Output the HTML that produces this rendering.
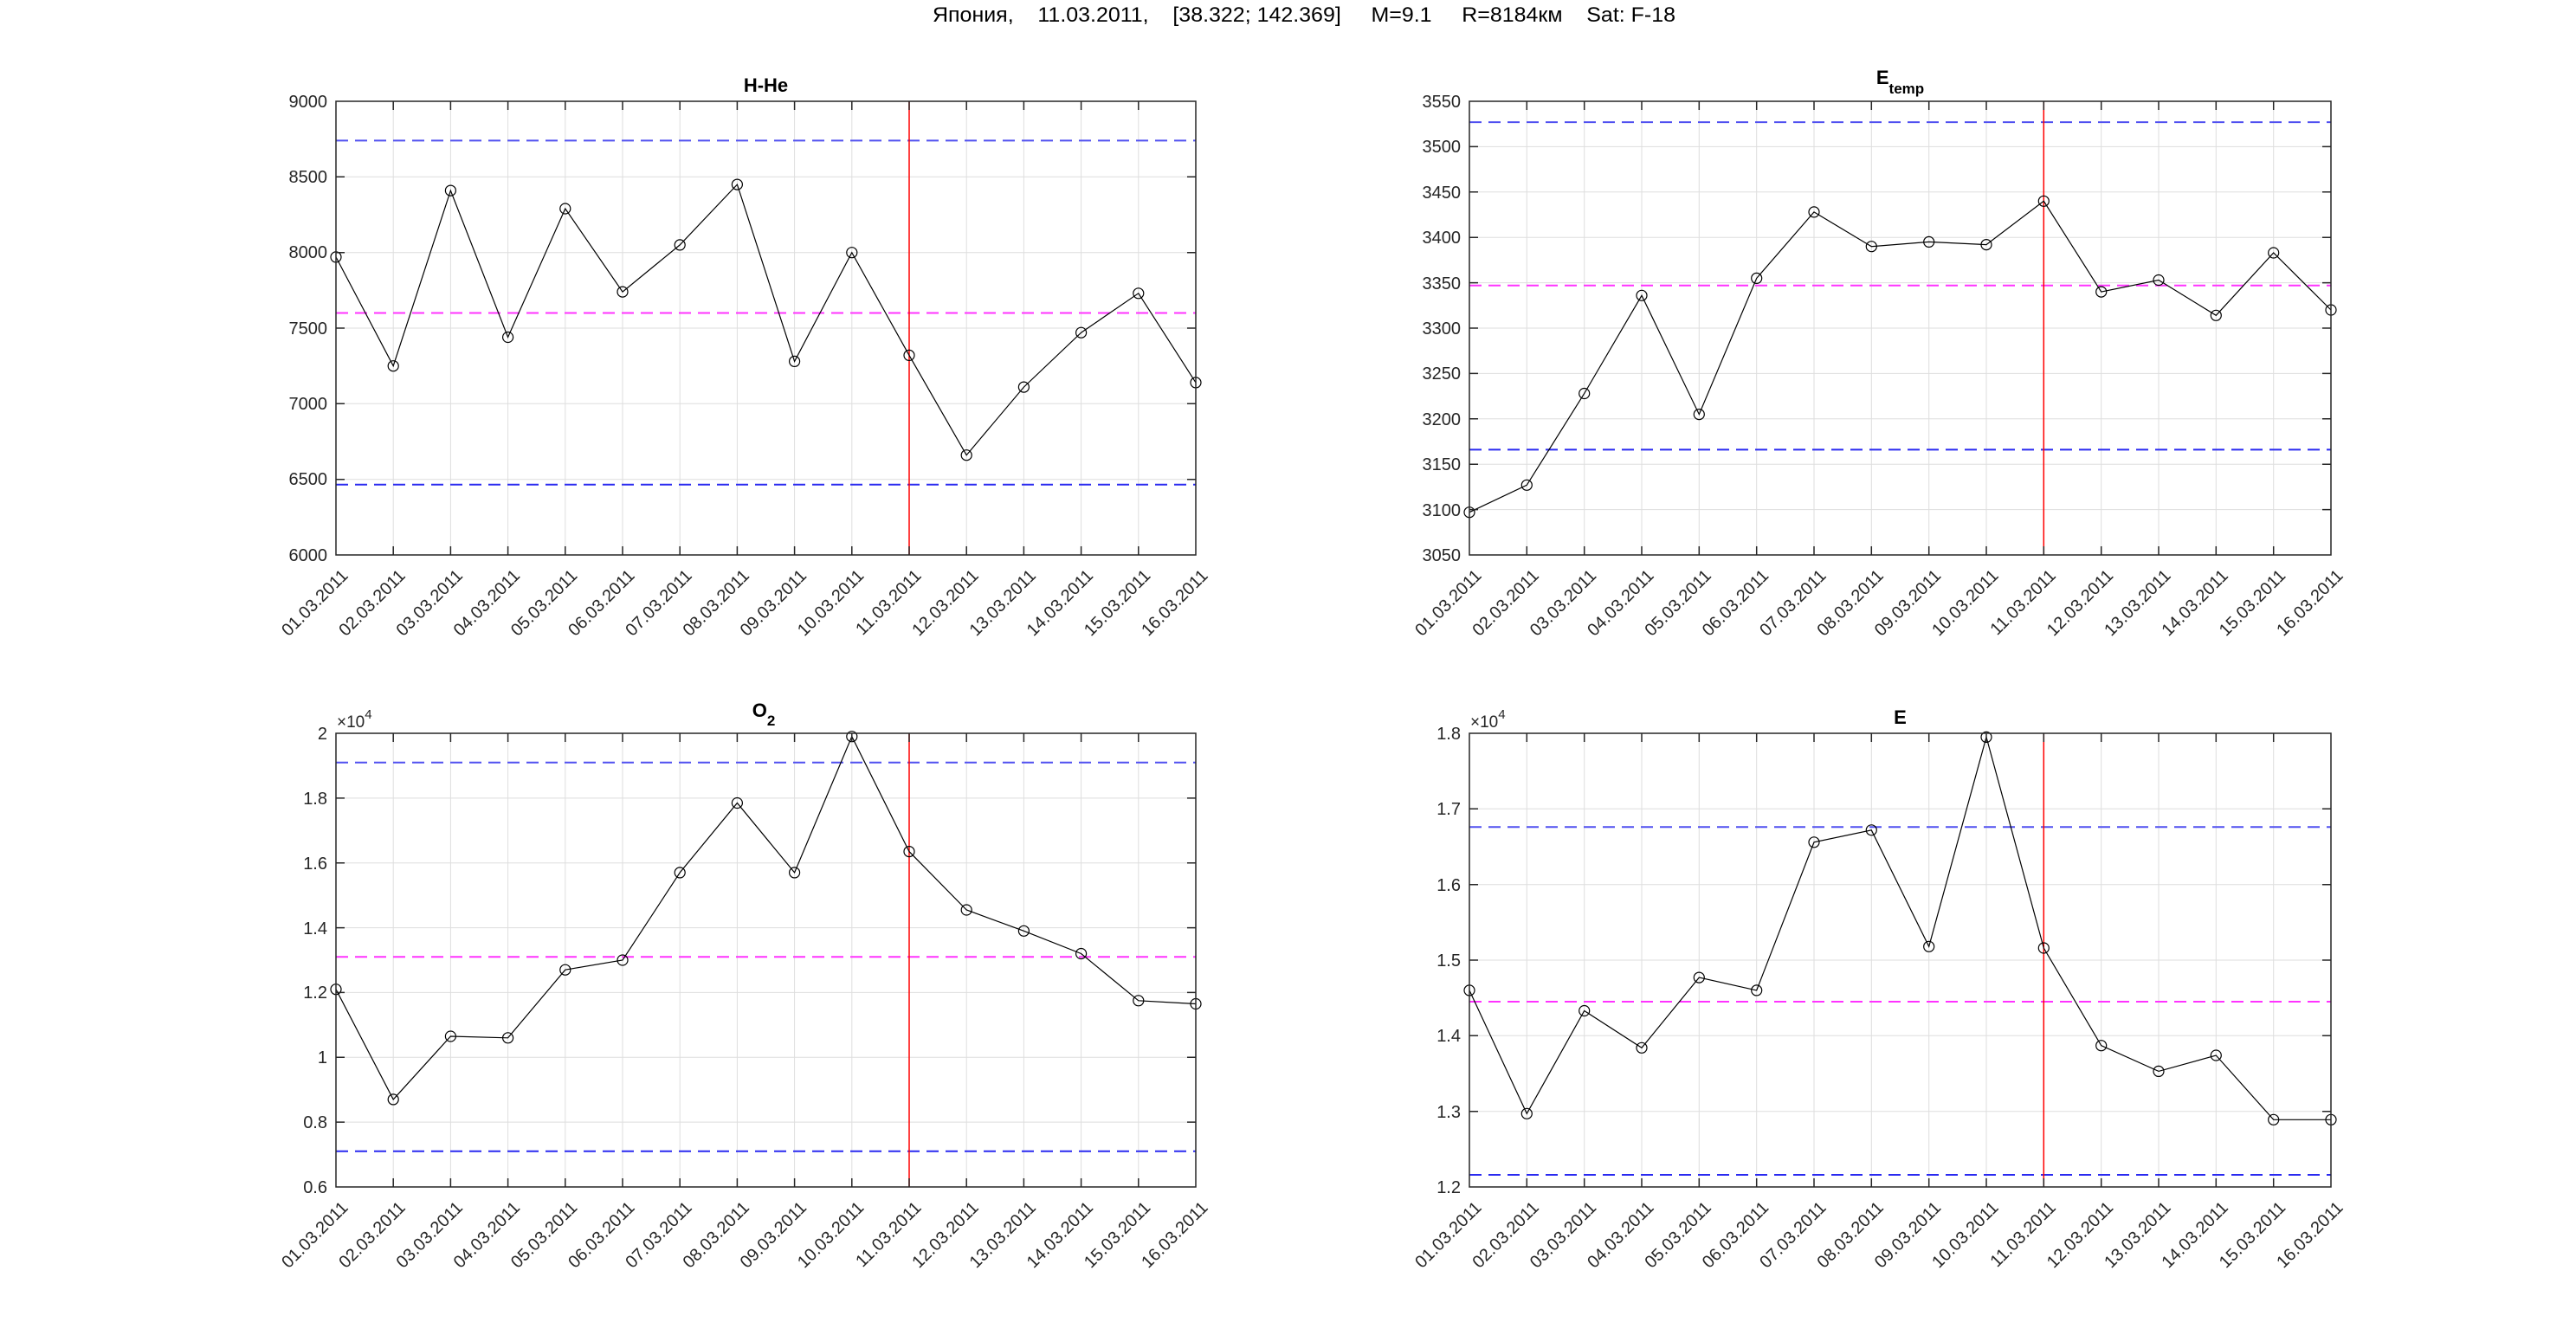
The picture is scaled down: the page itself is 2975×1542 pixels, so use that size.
<!DOCTYPE html>
<html><head><meta charset="utf-8"><style>
html,body{margin:0;padding:0;background:#fff;}
svg{display:block;}
text{font-family:"Liberation Sans",Arial,sans-serif;fill:#262626;}
.yl{font-size:20px;text-anchor:end;}
.xl{font-size:20px;text-anchor:end;}
.tt{font-size:22px;font-weight:bold;text-anchor:middle;fill:#000;}
.grid{stroke:#dedede;stroke-width:1;fill:none;}
.ax{stroke:#262626;stroke-width:1.5;fill:none;}
.d{stroke:#000;stroke-width:1.2;fill:none;marker-start:url(#m);marker-mid:url(#m);marker-end:url(#m);}
.bu{stroke:#5050f0;stroke-width:2;stroke-dasharray:14 8;}
.bl{stroke:#2a2af0;stroke-width:2;stroke-dasharray:14 8;}
.mg{stroke:#ff33ff;stroke-width:2;stroke-dasharray:14 8;}
.rd{stroke:#ff0000;stroke-width:1.5;}
</style></head><body>
<svg width="2975" height="1542" viewBox="0 0 2975 1542" xmlns="http://www.w3.org/2000/svg">
<defs><marker id="m" markerUnits="userSpaceOnUse" markerWidth="16" markerHeight="16" refX="8" refY="8"><circle cx="8" cy="8" r="6" fill="none" stroke="#000" stroke-width="1.2"/></marker></defs>
<rect width="2975" height="1542" fill="#fff"/>
<text x="1506" y="25" style="font-size:24px;text-anchor:middle;fill:#000" xml:space="preserve" textLength="858" lengthAdjust="spacingAndGlyphs">Япония,    11.03.2011,    [38.322; 142.369]     M=9.1     R=8184км    Sat: F-18</text>

<!-- ===== Plot A: H-He ===== -->
<path class="grid" d="M454.2 117V641M520.4 117V641M586.6 117V641M652.8 117V641M719 117V641M785.2 117V641M851.4 117V641M917.6 117V641M983.8 117V641M1050 117V641M1116.2 117V641M1182.4 117V641M1248.6 117V641M1314.8 117V641M388 204.3H1381M388 291.7H1381M388 379H1381M388 466.3H1381M388 553.7H1381"/>
<line class="bu" x1="388" y1="162.4" x2="1381" y2="162.4"/>
<line class="bl" x1="388" y1="559.8" x2="1381" y2="559.8"/>
<line class="mg" x1="388" y1="361.5" x2="1381" y2="361.5"/>
<line class="rd" x1="1050" y1="117" x2="1050" y2="641"/>
<polyline class="d" points="388,296.9 454.2,422.7 520.4,220.1 586.6,389.5 652.8,241 719,337.1 785.2,282.9 851.4,213.1 917.6,417.4 983.8,291.7 1050,410.4 1116.2,525.7 1182.4,447.1 1248.6,384.2 1314.8,338.8 1381,441.9"/>
<rect class="ax" x="388" y="117" width="993" height="524"/>
<path class="ax" d="M454.2 641v-10M520.4 641v-10M586.6 641v-10M652.8 641v-10M719 641v-10M785.2 641v-10M851.4 641v-10M917.6 641v-10M983.8 641v-10M1050 641v-10M1116.2 641v-10M1182.4 641v-10M1248.6 641v-10M1314.8 641v-10M454.2 117v10M520.4 117v10M586.6 117v10M652.8 117v10M719 117v10M785.2 117v10M851.4 117v10M917.6 117v10M983.8 117v10M1050 117v10M1116.2 117v10M1182.4 117v10M1248.6 117v10M1314.8 117v10M388 204.3h10M388 291.7h10M388 379h10M388 466.3h10M388 553.7h10M1381 204.3h-10M1381 291.7h-10M1381 379h-10M1381 466.3h-10M1381 553.7h-10"/>
<text class="tt" x="884.5" y="106">H-He</text>
<g class="yl"><text x="378" y="124">9000</text><text x="378" y="211">8500</text><text x="378" y="298">8000</text><text x="378" y="386">7500</text><text x="378" y="473">7000</text><text x="378" y="560">6500</text><text x="378" y="648">6000</text></g>
<g class="xl">
<text transform="translate(398,661) rotate(-45)" dy="7">01.03.2011</text>
<text transform="translate(464.2,661) rotate(-45)" dy="7">02.03.2011</text>
<text transform="translate(530.4,661) rotate(-45)" dy="7">03.03.2011</text>
<text transform="translate(596.6,661) rotate(-45)" dy="7">04.03.2011</text>
<text transform="translate(662.8,661) rotate(-45)" dy="7">05.03.2011</text>
<text transform="translate(729,661) rotate(-45)" dy="7">06.03.2011</text>
<text transform="translate(795.2,661) rotate(-45)" dy="7">07.03.2011</text>
<text transform="translate(861.4,661) rotate(-45)" dy="7">08.03.2011</text>
<text transform="translate(927.6,661) rotate(-45)" dy="7">09.03.2011</text>
<text transform="translate(993.8,661) rotate(-45)" dy="7">10.03.2011</text>
<text transform="translate(1060,661) rotate(-45)" dy="7">11.03.2011</text>
<text transform="translate(1126.2,661) rotate(-45)" dy="7">12.03.2011</text>
<text transform="translate(1192.4,661) rotate(-45)" dy="7">13.03.2011</text>
<text transform="translate(1258.6,661) rotate(-45)" dy="7">14.03.2011</text>
<text transform="translate(1324.8,661) rotate(-45)" dy="7">15.03.2011</text>
<text transform="translate(1391,661) rotate(-45)" dy="7">16.03.2011</text>
</g>

<!-- ===== Plot B: Etemp ===== -->
<path class="grid" d="M1763.3 117V641M1829.7 117V641M1896 117V641M1962.3 117V641M2028.7 117V641M2095 117V641M2161.3 117V641M2227.7 117V641M2294 117V641M2360.3 117V641M2426.7 117V641M2493 117V641M2559.3 117V641M2625.7 117V641M1697 169.4H2692M1697 221.8H2692M1697 274.2H2692M1697 326.6H2692M1697 379H2692M1697 431.4H2692M1697 483.8H2692M1697 536.2H2692M1697 588.6H2692"/>
<line class="bu" x1="1697" y1="141.1" x2="2692" y2="141.1"/>
<line class="bl" x1="1697" y1="519.4" x2="2692" y2="519.4"/>
<line class="mg" x1="1697" y1="329.7" x2="2692" y2="329.7"/>
<line class="rd" x1="2360.3" y1="117" x2="2360.3" y2="641"/>
<polyline class="d" points="1697,591.7 1763.3,560.3 1829.7,454.5 1896,341.3 1962.3,478.6 2028.7,321.4 2095,244.9 2161.3,284.7 2227.7,279.4 2294,282.6 2360.3,232.3 2426.7,337.1 2493,323.5 2559.3,364.3 2625.7,292 2692,358"/>
<rect class="ax" x="1697" y="117" width="995" height="524"/>
<path class="ax" d="M1763.3 641v-10M1829.7 641v-10M1896 641v-10M1962.3 641v-10M2028.7 641v-10M2095 641v-10M2161.3 641v-10M2227.7 641v-10M2294 641v-10M2360.3 641v-10M2426.7 641v-10M2493 641v-10M2559.3 641v-10M2625.7 641v-10M1763.3 117v10M1829.7 117v10M1896 117v10M1962.3 117v10M2028.7 117v10M2095 117v10M2161.3 117v10M2227.7 117v10M2294 117v10M2360.3 117v10M2426.7 117v10M2493 117v10M2559.3 117v10M2625.7 117v10M1697 169.4h10M1697 221.8h10M1697 274.2h10M1697 326.6h10M1697 379h10M1697 431.4h10M1697 483.8h10M1697 536.2h10M1697 588.6h10M2692 169.4h-10M2692 221.8h-10M2692 274.2h-10M2692 326.6h-10M2692 379h-10M2692 431.4h-10M2692 483.8h-10M2692 536.2h-10M2692 588.6h-10"/>
<text class="tt" x="2194.5" y="97">E<tspan style="font-size:17px" dy="11">temp</tspan></text>
<g class="yl"><text x="1687" y="124">3550</text><text x="1687" y="176">3500</text><text x="1687" y="229">3450</text><text x="1687" y="281">3400</text><text x="1687" y="334">3350</text><text x="1687" y="386">3300</text><text x="1687" y="438">3250</text><text x="1687" y="491">3200</text><text x="1687" y="543">3150</text><text x="1687" y="596">3100</text><text x="1687" y="648">3050</text></g>
<g class="xl">
<text transform="translate(1707,661) rotate(-45)" dy="7">01.03.2011</text>
<text transform="translate(1773.3,661) rotate(-45)" dy="7">02.03.2011</text>
<text transform="translate(1839.7,661) rotate(-45)" dy="7">03.03.2011</text>
<text transform="translate(1906,661) rotate(-45)" dy="7">04.03.2011</text>
<text transform="translate(1972.3,661) rotate(-45)" dy="7">05.03.2011</text>
<text transform="translate(2038.7,661) rotate(-45)" dy="7">06.03.2011</text>
<text transform="translate(2105,661) rotate(-45)" dy="7">07.03.2011</text>
<text transform="translate(2171.3,661) rotate(-45)" dy="7">08.03.2011</text>
<text transform="translate(2237.7,661) rotate(-45)" dy="7">09.03.2011</text>
<text transform="translate(2304,661) rotate(-45)" dy="7">10.03.2011</text>
<text transform="translate(2370.3,661) rotate(-45)" dy="7">11.03.2011</text>
<text transform="translate(2436.7,661) rotate(-45)" dy="7">12.03.2011</text>
<text transform="translate(2503,661) rotate(-45)" dy="7">13.03.2011</text>
<text transform="translate(2569.3,661) rotate(-45)" dy="7">14.03.2011</text>
<text transform="translate(2635.7,661) rotate(-45)" dy="7">15.03.2011</text>
<text transform="translate(2702,661) rotate(-45)" dy="7">16.03.2011</text>
</g>

<!-- ===== Plot C: O2 ===== -->
<path class="grid" d="M454.2 847V1371M520.4 847V1371M586.6 847V1371M652.8 847V1371M719 847V1371M785.2 847V1371M851.4 847V1371M917.6 847V1371M983.8 847V1371M1050 847V1371M1116.2 847V1371M1182.4 847V1371M1248.6 847V1371M1314.8 847V1371M388 921.9H1381M388 996.7H1381M388 1071.6H1381M388 1146.4H1381M388 1221.3H1381M388 1296.1H1381"/>
<line class="bu" x1="388" y1="880.7" x2="1381" y2="880.7"/>
<line class="bl" x1="388" y1="1329.8" x2="1381" y2="1329.8"/>
<line class="mg" x1="388" y1="1105.3" x2="1381" y2="1105.3"/>
<line class="rd" x1="1050" y1="847" x2="1050" y2="1371"/>
<polyline class="d" points="388,1142.7 454.2,1269.9 520.4,1197 586.6,1198.8 652.8,1120.2 719,1109 785.2,1007.9 851.4,927.5 917.6,1007.9 983.8,850.7 1050,983.6 1116.2,1051 1182.4,1075.3 1248.6,1101.5 1314.8,1155.8 1381,1159.5"/>
<rect class="ax" x="388" y="847" width="993" height="524"/>
<path class="ax" d="M454.2 1371v-10M520.4 1371v-10M586.6 1371v-10M652.8 1371v-10M719 1371v-10M785.2 1371v-10M851.4 1371v-10M917.6 1371v-10M983.8 1371v-10M1050 1371v-10M1116.2 1371v-10M1182.4 1371v-10M1248.6 1371v-10M1314.8 1371v-10M454.2 847v10M520.4 847v10M586.6 847v10M652.8 847v10M719 847v10M785.2 847v10M851.4 847v10M917.6 847v10M983.8 847v10M1050 847v10M1116.2 847v10M1182.4 847v10M1248.6 847v10M1314.8 847v10M388 921.9h10M388 996.7h10M388 1071.6h10M388 1146.4h10M388 1221.3h10M388 1296.1h10M1381 921.9h-10M1381 996.7h-10M1381 1071.6h-10M1381 1146.4h-10M1381 1221.3h-10M1381 1296.1h-10"/>
<text class="tt" x="882" y="828">O<tspan style="font-size:17px" dy="10">2</tspan></text>
<text x="389" y="840" style="font-size:19px">×10<tspan style="font-size:15px" dy="-10">4</tspan></text>
<g class="yl"><text x="378" y="854">2</text><text x="378" y="929">1.8</text><text x="378" y="1004">1.6</text><text x="378" y="1079">1.4</text><text x="378" y="1153">1.2</text><text x="378" y="1228">1</text><text x="378" y="1303">0.8</text><text x="378" y="1378">0.6</text></g>
<g class="xl">
<text transform="translate(398,1391) rotate(-45)" dy="7">01.03.2011</text>
<text transform="translate(464.2,1391) rotate(-45)" dy="7">02.03.2011</text>
<text transform="translate(530.4,1391) rotate(-45)" dy="7">03.03.2011</text>
<text transform="translate(596.6,1391) rotate(-45)" dy="7">04.03.2011</text>
<text transform="translate(662.8,1391) rotate(-45)" dy="7">05.03.2011</text>
<text transform="translate(729,1391) rotate(-45)" dy="7">06.03.2011</text>
<text transform="translate(795.2,1391) rotate(-45)" dy="7">07.03.2011</text>
<text transform="translate(861.4,1391) rotate(-45)" dy="7">08.03.2011</text>
<text transform="translate(927.6,1391) rotate(-45)" dy="7">09.03.2011</text>
<text transform="translate(993.8,1391) rotate(-45)" dy="7">10.03.2011</text>
<text transform="translate(1060,1391) rotate(-45)" dy="7">11.03.2011</text>
<text transform="translate(1126.2,1391) rotate(-45)" dy="7">12.03.2011</text>
<text transform="translate(1192.4,1391) rotate(-45)" dy="7">13.03.2011</text>
<text transform="translate(1258.6,1391) rotate(-45)" dy="7">14.03.2011</text>
<text transform="translate(1324.8,1391) rotate(-45)" dy="7">15.03.2011</text>
<text transform="translate(1391,1391) rotate(-45)" dy="7">16.03.2011</text>
</g>

<!-- ===== Plot D: E ===== -->
<path class="grid" d="M1763.3 847V1371M1829.7 847V1371M1896 847V1371M1962.3 847V1371M2028.7 847V1371M2095 847V1371M2161.3 847V1371M2227.7 847V1371M2294 847V1371M2360.3 847V1371M2426.7 847V1371M2493 847V1371M2559.3 847V1371M2625.7 847V1371M1697 934.3H2692M1697 1021.7H2692M1697 1109H2692M1697 1196.3H2692M1697 1283.7H2692"/>
<line class="bu" x1="1697" y1="955.3" x2="2692" y2="955.3"/>
<line class="bl" x1="1697" y1="1357" x2="2692" y2="1357"/>
<line class="mg" x1="1697" y1="1157" x2="2692" y2="1157"/>
<line class="rd" x1="2360.3" y1="847" x2="2360.3" y2="1371"/>
<polyline class="d" points="1697,1143.9 1763.3,1286.3 1829.7,1167.5 1896,1210.3 1962.3,1129.1 2028.7,1143.9 2095,972.8 2161.3,958.8 2227.7,1093.3 2294,851.4 2360.3,1095 2426.7,1207.7 2493,1237.4 2559.3,1219 2625.7,1293.3 2692,1293.3"/>
<rect class="ax" x="1697" y="847" width="995" height="524"/>
<path class="ax" d="M1763.3 1371v-10M1829.7 1371v-10M1896 1371v-10M1962.3 1371v-10M2028.7 1371v-10M2095 1371v-10M2161.3 1371v-10M2227.7 1371v-10M2294 1371v-10M2360.3 1371v-10M2426.7 1371v-10M2493 1371v-10M2559.3 1371v-10M2625.7 1371v-10M1763.3 847v10M1829.7 847v10M1896 847v10M1962.3 847v10M2028.7 847v10M2095 847v10M2161.3 847v10M2227.7 847v10M2294 847v10M2360.3 847v10M2426.7 847v10M2493 847v10M2559.3 847v10M2625.7 847v10M1697 934.3h10M1697 1021.7h10M1697 1109h10M1697 1196.3h10M1697 1283.7h10M2692 934.3h-10M2692 1021.7h-10M2692 1109h-10M2692 1196.3h-10M2692 1283.7h-10"/>
<text class="tt" x="2194.5" y="836">E</text>
<text x="1698" y="840" style="font-size:19px">×10<tspan style="font-size:15px" dy="-10">4</tspan></text>
<g class="yl"><text x="1687" y="854">1.8</text><text x="1687" y="941">1.7</text><text x="1687" y="1029">1.6</text><text x="1687" y="1116">1.5</text><text x="1687" y="1203">1.4</text><text x="1687" y="1291">1.3</text><text x="1687" y="1378">1.2</text></g>
<g class="xl">
<text transform="translate(1707,1391) rotate(-45)" dy="7">01.03.2011</text>
<text transform="translate(1773.3,1391) rotate(-45)" dy="7">02.03.2011</text>
<text transform="translate(1839.7,1391) rotate(-45)" dy="7">03.03.2011</text>
<text transform="translate(1906,1391) rotate(-45)" dy="7">04.03.2011</text>
<text transform="translate(1972.3,1391) rotate(-45)" dy="7">05.03.2011</text>
<text transform="translate(2038.7,1391) rotate(-45)" dy="7">06.03.2011</text>
<text transform="translate(2105,1391) rotate(-45)" dy="7">07.03.2011</text>
<text transform="translate(2171.3,1391) rotate(-45)" dy="7">08.03.2011</text>
<text transform="translate(2237.7,1391) rotate(-45)" dy="7">09.03.2011</text>
<text transform="translate(2304,1391) rotate(-45)" dy="7">10.03.2011</text>
<text transform="translate(2370.3,1391) rotate(-45)" dy="7">11.03.2011</text>
<text transform="translate(2436.7,1391) rotate(-45)" dy="7">12.03.2011</text>
<text transform="translate(2503,1391) rotate(-45)" dy="7">13.03.2011</text>
<text transform="translate(2569.3,1391) rotate(-45)" dy="7">14.03.2011</text>
<text transform="translate(2635.7,1391) rotate(-45)" dy="7">15.03.2011</text>
<text transform="translate(2702,1391) rotate(-45)" dy="7">16.03.2011</text>
</g>
</svg>
</body></html>
